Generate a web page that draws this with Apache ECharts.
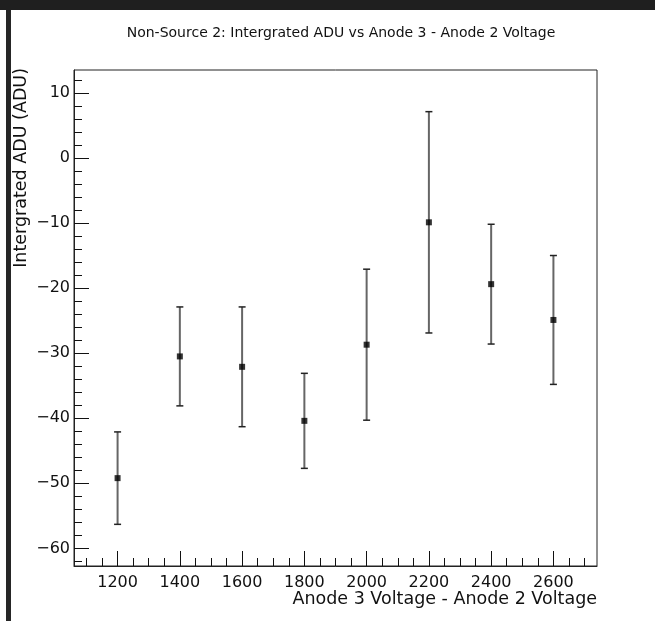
<!DOCTYPE html>
<html>
<head>
<meta charset="utf-8">
<script src="https://cdn.jsdelivr.net/npm/echarts@6.0.0/dist/echarts.min.js"></script>
<style>
  html, body { margin: 0; padding: 0; background: #fff; }
  #chart { width: 655px; height: 621px; }
</style>
</head>
<body>
<div id="chart"></div>
<script>
// Measured integrated ADU per voltage step, with symmetric errors
const voltages = [1200, 1400, 1600, 1800, 2000, 2200, 2400, 2600];
const adu      = [-49.2, -30.5, -32.1, -40.4, -28.7, -9.9, -19.4, -24.9];
const aduErr   = [7.1, 7.6, 9.2, 7.3, 11.6, 17.0, 9.2, 9.9];

// Axis ticks
const xMajorTicks = [1200, 1400, 1600, 1800, 2000, 2200, 2400, 2600];
const yMajorTicks = [-60, -50, -40, -30, -20, -10, 0, 10];

const xRange = [1060, 2740];
const yRange = [-62.7, 13.5];

const xMinorTicks = [];
for (let v = 1100; v <= 2700; v += 50) if (v % 200 !== 0) xMinorTicks.push(v);
const yMinorTicks = [];
for (let v = -62; v <= 12; v += 2) if (v % 10 !== 0) yMinorTicks.push(v);

const FONT = 'DejaVu Sans';
const minus = v => String(v).replace('-', '\u2212');

const chart = echarts.init(document.getElementById('chart'), null, { renderer: 'canvas' });

const points = voltages.map((v, i) => [v, adu[i], aduErr[i]]);

const majorTick = { show: true, inside: true, length: 15, lineStyle: { color: '#111', width: 1 } };
const minorTickStyle = { show: true, inside: true, length: 8, lineStyle: { color: '#111', width: 1 } };

chart.setOption({
  animation: false,
  backgroundColor: '#fff',
  title: {
    text: 'Non-Source 2: Intergrated ADU vs Anode 3 - Anode 2 Voltage',
    left: 336,
    top: 21,
    textAlign: 'center',
    textStyle: { fontFamily: FONT, fontSize: 14, fontWeight: 'normal', color: '#111' }
  },
  grid: {
    left: 74, right: 58, top: 70, bottom: 55,
    show: true, borderColor: '#222', borderWidth: 1, backgroundColor: '#fff'
  },
  xAxis: [
    {
      type: 'value', min: xRange[0], max: xRange[1], position: 'bottom',
      axisLine: { show: true, onZero: false, lineStyle: { color: '#222', width: 1 } },
      axisTick: Object.assign({ customValues: xMajorTicks }, majorTick),
      axisLabel: {
        customValues: xMajorTicks, margin: 9, formatter: v => String(v),
        fontFamily: FONT, fontSize: 16, color: '#111'
      },
      splitLine: { show: false }
    },
    {
      type: 'value', min: xRange[0], max: xRange[1], position: 'bottom', offset: 0,
      axisLine: { show: false, onZero: false },
      axisTick: Object.assign({ customValues: xMinorTicks }, minorTickStyle),
      axisLabel: { show: false },
      splitLine: { show: false }
    }
  ],
  yAxis: [
    {
      type: 'value', min: yRange[0], max: yRange[1], position: 'left',
      axisLine: { show: true, onZero: false, lineStyle: { color: '#222', width: 1 } },
      axisTick: Object.assign({ customValues: yMajorTicks }, majorTick),
      axisLabel: {
        customValues: yMajorTicks, margin: 4, formatter: minus,
        fontFamily: FONT, fontSize: 16, color: '#111'
      },
      splitLine: { show: false }
    },
    {
      type: 'value', min: yRange[0], max: yRange[1], position: 'left', offset: 0,
      axisLine: { show: false, onZero: false },
      axisTick: Object.assign({ customValues: yMinorTicks }, minorTickStyle),
      axisLabel: { show: false },
      splitLine: { show: false }
    }
  ],
  graphic: [
    { type: 'rect', shape: { x: 0, y: 0, width: 655, height: 10 }, style: { fill: '#1f1f1f' }, z: 100 },
    { type: 'rect', shape: { x: 6, y: 10, width: 5, height: 611 }, style: { fill: '#262626' }, z: 100 },
    {
      type: 'text', x: 597, y: 590, z: 100,
      style: {
        text: 'Anode 3 Voltage - Anode 2 Voltage', align: 'right', verticalAlign: 'top',
        font: '17.5px "' + FONT + '"', fill: '#111'
      }
    },
    {
      type: 'text', x: 12, y: 68, rotation: Math.PI / 2, z: 100,
      style: {
        text: 'Intergrated ADU (ADU)', align: 'right', verticalAlign: 'top',
        font: '17.5px "' + FONT + '"', fill: '#111'
      }
    }
  ],
  series: [
    {
      type: 'custom',
      name: 'errors',
      xAxisIndex: 0, yAxisIndex: 0,
      data: points,
      encode: { x: 0, y: 1 },
      renderItem: function (params, api) {
        const x = api.value(0), y = api.value(1), e = api.value(2);
        const top = api.coord([x, y + e]);
        const bot = api.coord([x, y - e]);
        const cap = 3.5;
        return {
          type: 'group',
          children: [
            { type: 'line', shape: { x1: top[0], y1: top[1], x2: bot[0], y2: bot[1] },
              style: { stroke: '#666', lineWidth: 2 } },
            { type: 'line', shape: { x1: top[0] - cap, y1: top[1], x2: top[0] + cap, y2: top[1] },
              style: { stroke: '#222', lineWidth: 1.5 } },
            { type: 'line', shape: { x1: bot[0] - cap, y1: bot[1], x2: bot[0] + cap, y2: bot[1] },
              style: { stroke: '#222', lineWidth: 1.5 } }
          ]
        };
      },
      z: 2
    },
    {
      type: 'scatter',
      name: 'ADU',
      xAxisIndex: 0, yAxisIndex: 0,
      data: points.map(p => [p[0], p[1]]),
      symbol: 'rect',
      symbolSize: 6,
      itemStyle: { color: '#000' },
      z: 3
    }
  ]
});
</script>
</body>
</html>
